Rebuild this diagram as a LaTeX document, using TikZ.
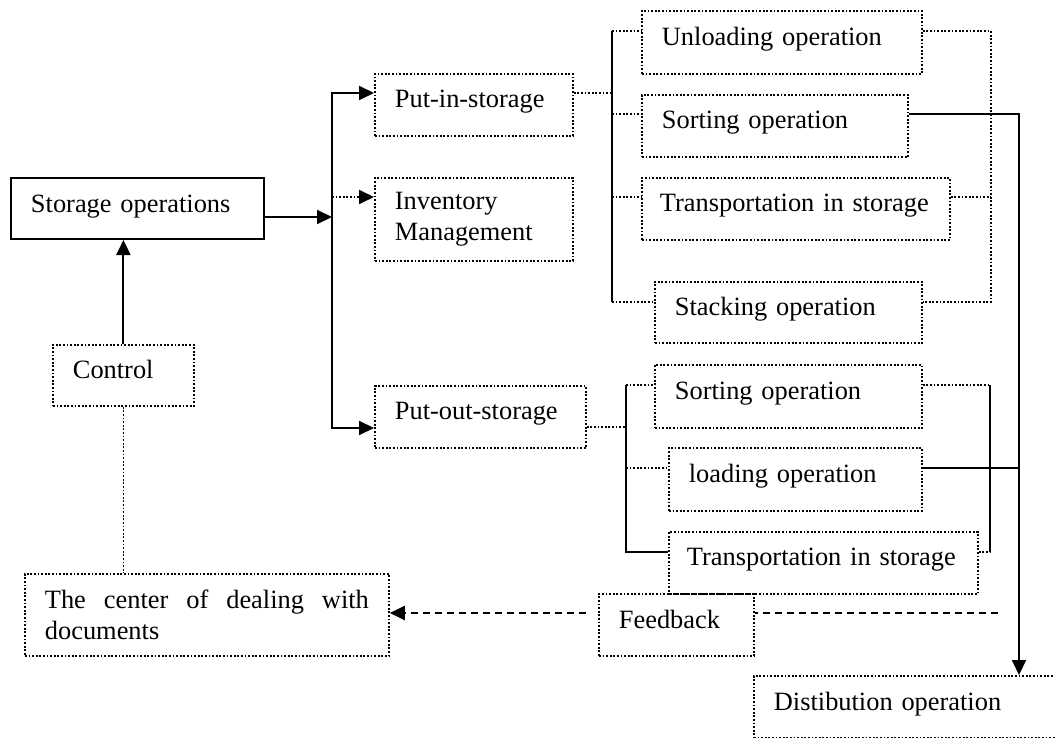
\documentclass[tikz,border=0pt]{standalone}
\usepackage{fontspec}
\setmainfont{Liberation Serif}
\usetikzlibrary{arrows.meta}

\begin{document}
\begin{tikzpicture}[x=0.5pt,y=-0.5pt,
  font={\fontsize{13.2}{15.5}\selectfont\hyphenpenalty=10000},
  opbox/.style={draw,line width=0.9pt,dash pattern=on 0.9pt off 0.9pt,anchor=north west,inner xsep=10pt,inner ysep=0pt,text depth=6pt,align=left},
  mainbox/.style={draw,line width=1pt,anchor=north west,inner xsep=10pt,inner ysep=0pt,text depth=4.5pt,align=left},
  link/.style={line width=1pt},
  thinlink/.style={line width=0.8pt},
  dotlink/.style={line width=0.9pt,dash pattern=on 0.9pt off 0.9pt},
  fblink/.style={line width=1pt,dash pattern=on 3.5pt off 2.5pt},
  arrowto/.style={-{Triangle[length=7.5pt,width=7pt]}},
  arrowboth/.style={{Triangle[length=7.5pt,width=7pt]}-{Triangle[length=7.5pt,width=7pt]}}]
\useasboundingbox (0,0) rectangle (1055,738);
\clip (0,0) rectangle (1055,738);

\node[mainbox,text width=106.5pt,minimum height=30.5pt] (stor) at (10,177) {Storage operations};
\node[opbox,text width=50.5pt,minimum height=30.5pt] (ctrl) at (52,344) {Control};
\node[opbox,text width=162pt,minimum height=41pt,text depth=,align=justify] (docs) at (24,573) {The center of dealing with documents};

\node[opbox,text width=79pt,minimum height=31pt] (pin) at (374,73) {Put-in-storage};
\node[opbox,text width=79pt,minimum height=41.5pt,text depth=] (inv) at (374,177) {Inventory\\Management};
\node[opbox,text width=85.5pt,minimum height=31pt] (pout) at (374,385) {Put-out-storage};

\node[opbox,text width=120pt,minimum height=31.5pt] (unl) at (641,10) {Unloading operation};
\node[opbox,text width=113pt,minimum height=31pt] (sorti) at (641,94) {Sorting operation};
\node[opbox,text width=136pt,inner xsep=9pt,minimum height=31pt] (trni) at (641,177) {Transportation in storage};
\node[opbox,text width=113.5pt,minimum height=30.5pt] (stk) at (654,281) {Stacking operation};

\node[opbox,text width=113.5pt,minimum height=31.5pt] (sorto) at (654,364) {Sorting operation};
\node[opbox,text width=106.5pt,minimum height=31.5pt] (load) at (668,447) {loading operation};
\node[opbox,text width=136.5pt,inner xsep=9pt,minimum height=31pt] (trno) at (668,531) {Transportation in storage};

\node[opbox,text width=57.5pt,minimum height=31pt] (fb) at (598,593) {Feedback};
\node[opbox,text width=140pt,minimum height=31pt] (dist) at (753,675) {Distibution operation};

\coordinate (bA) at (332,93);
\coordinate (bB) at (332,428);
\coordinate (sj) at (332,217);
\coordinate (ij) at (332,197);
\coordinate (pj) at (612,93);
\coordinate (uA) at (612,31);
\coordinate (us) at (612,114);
\coordinate (ut) at (612,197);
\coordinate (uB) at (612,302);
\coordinate (rA) at (991,31);
\coordinate (rt) at (991,197);
\coordinate (rB) at (991,302);
\coordinate (dj) at (1019,114);
\coordinate (oj) at (626,427);
\coordinate (lA) at (626,385);
\coordinate (ll) at (626,468);
\coordinate (lB) at (626,552);
\coordinate (mA) at (990,385);
\coordinate (mB) at (990,552);
\coordinate (lj) at (1019,468);
\coordinate (fbk) at (998,613);

\draw[link,arrowto] (ctrl.north) -- (ctrl.north |- stor.south);
\draw[dotlink] (ctrl.south) -- (ctrl.south |- docs.north);
\draw[link,arrowto] (stor.east |- sj) -- (sj);
\draw[link,arrowboth] (pin.west |- bA) -- (bA) -- (bB) -- (pout.west |- bB);
\draw[dotlink,arrowto] (ij) -- (inv.west |- ij);

\draw[dotlink] (pin.east |- pj) -- (pj);
\draw[link] (uA) -- (uB);
\draw[dotlink] (uA) -- (unl.west |- uA);
\draw[dotlink] (us) -- (sorti.west |- us);
\draw[dotlink] (ut) -- (trni.west |- ut);
\draw[dotlink] (uB) -- (stk.west |- uB);
\draw[dotlink] (unl.east |- rA) -- (rA) -- (rB) -- (stk.east |- rB);
\draw[dotlink] (trni.east |- rt) -- (rt);
\draw[link,arrowto] (sorti.east |- dj) -- (dj) -- (dj |- dist.north);

\draw[dotlink] (pout.east |- oj) -- (oj);
\draw[link] (lA) -- (lB) -- (trno.west |- lB);
\draw[dotlink] (lA) -- (sorto.west |- lA);
\draw[dotlink] (ll) -- (load.west |- ll);
\draw[thinlink] (mA) -- (mB);
\draw[dotlink] (sorto.east |- mA) -- (mA);
\draw[dotlink] (trno.east |- mB) -- (mB);
\draw[link] (load.east |- lj) -- (lj);

\draw[fblink,arrowto,shorten <=6pt] (fb.west |- fbk) -- (docs.east |- fbk);
\draw[fblink] (fbk) -- (fb.east |- fbk);
\end{tikzpicture}
\end{document}
